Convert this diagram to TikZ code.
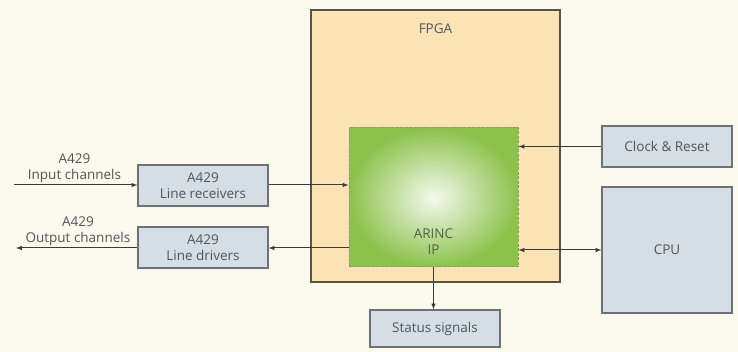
\documentclass[tikz,border=0pt]{standalone}
\usepackage{fontspec}
\setmainfont{Open Sans}
\usetikzlibrary{positioning,calc}

\definecolor{paper}{HTML}{FBF8EE}
\definecolor{fpgafill}{HTML}{FCE3B6}
\definecolor{fpgaline}{HTML}{5A5244}
\definecolor{boxfill}{HTML}{D5DEE4}
\definecolor{boxline}{HTML}{6E7276}
\definecolor{ipgreen}{HTML}{8CC24C}
\definecolor{ipline}{HTML}{8A9A6A}
\definecolor{inktext}{HTML}{525558}
\definecolor{wire}{HTML}{3A3A3A}

\tikzset{
  block/.style={draw=boxline, fill=boxfill, line width=1.2pt, minimum width=130pt,
    minimum height=41pt, align=center, text=inktext, font=\fontsize{13.5}{16}\selectfont},
  sig/.style={draw=wire, line width=1pt, -latex},
  sigtext/.style={text=inktext, align=center, font=\fontsize{13.5}{16}\selectfont}
}

\begin{document}
\begin{tikzpicture}[x=1pt, y=-1pt]
        \fill[paper] (0,0) rectangle (738,352);
        \useasboundingbox (0,0) rectangle (738,352);

        % FPGA and the IP core
        \node[draw=fpgaline, fill=fpgafill, line width=1.2pt, minimum width=249pt,
              minimum height=272pt] (fpga) at (435.5,146) {};
        \node[sigtext] (fpgatitle) [below=11pt of fpga.north] {FPGA};
        \node[draw=ipline, dashed, dash pattern=on 3pt off 1.5pt, line width=1pt,
              inner color=white!90!ipgreen, outer color=ipgreen,
              minimum width=169pt, minimum height=139pt] (arinc) at (433.5,197.5) {};
        \node[sigtext, text=black!55!ipgreen!70!gray] (arinctext) [above=9pt of arinc.south] {ARINC\\IP};

        % blocks around it
        \node[block] (rx) at (203,185.5) {A429\\Line receivers};
        \node[block] (tx) at (203,247.5) {A429\\Line drivers};
        \node[block] (clk) at (667,146.5) {Clock \& Reset};
        \node[block, minimum height=126pt] (cpu) at (667,250) {CPU};
        \node[block, minimum height=37pt] (status) at (435,328.5) {Status signals};

        \coordinate (in) at (14,185);
        \coordinate (out) at (16,248);

        \draw[sig] (in) -- node[sigtext, above, pos=0.49, inner sep=2pt] (inlabel) {A429\\Input channels} (rx.west |- in);
        \draw[sig] (tx.west |- out) -- node[sigtext, above, pos=0.49, inner sep=2pt] (outlabel) {A429\\Output channels} (out);
        \draw[sig] (rx.east |- in) -- (arinc.west |- in);
        \draw[sig] (arinc.west |- out) -- (tx.east |- out);
        \draw[sig] (clk.west) -- (clk.west -| arinc.east);
        \draw[sig, latex-latex] (arinc.east |- cpu.west) -- (cpu.west);
        \draw[sig] (arinc.south) -- (arinc.south |- status.north);
\end{tikzpicture}
\end{document}
